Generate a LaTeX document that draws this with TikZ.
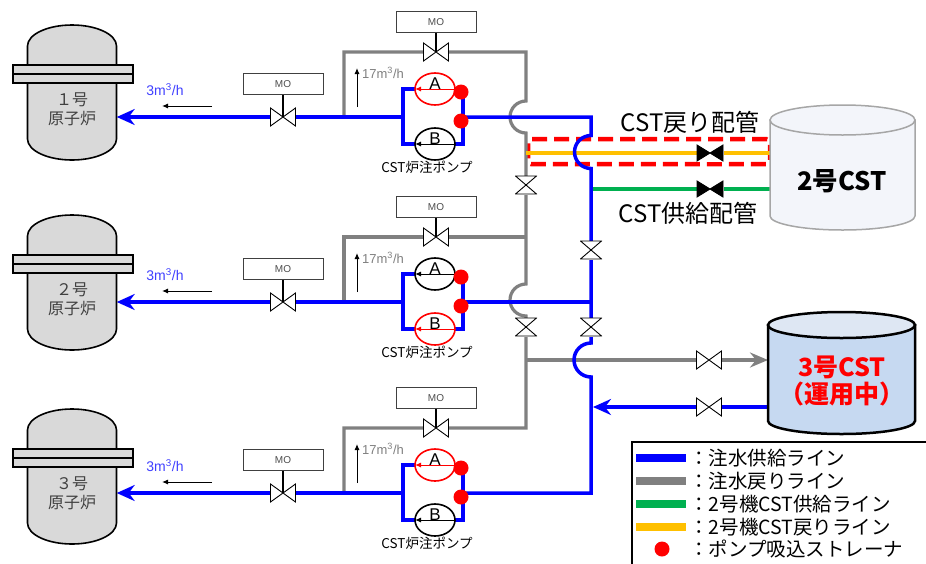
\documentclass[tikz,border=0pt]{standalone}
\usepackage{fontspec}
\setmainfont{Noto Sans CJK JP}
\newfontfamily\arialfont{Liberation Sans}
\usetikzlibrary{positioning,arrows.meta,shapes.geometric,backgrounds}

\definecolor{supply}{RGB}{0,0,255}
\definecolor{retgray}{RGB}{128,128,128}
\definecolor{cstgreen}{RGB}{0,176,80}
\definecolor{cstorange}{RGB}{255,192,0}
\definecolor{vesselgray}{RGB}{217,217,217}
\definecolor{tankblue}{RGB}{198,217,241}
\definecolor{tanktop}{RGB}{222,231,243}
\definecolor{tankpale}{RGB}{243,245,250}
\definecolor{feedblue}{RGB}{64,64,255}

\begin{document}
\begin{tikzpicture}[x=1pt,y=-1pt,
  supplypipe/.style={supply,line width=3.5pt},
  returnpipe/.style={retgray,line width=3.2pt},
  bigtip/.style={-{Stealth[length=18pt,width=16pt,inset=6pt]}},
  flowarrow/.style={line width=1pt,-{Latex[length=6pt,width=5pt]}},
  valve/.style={minimum width=26pt,minimum height=19pt,inner sep=0pt,fill=white,
    path picture={\draw[fill=#1,line width=.9pt]
      ([shift={(.5pt,.5pt)}]path picture bounding box.south west) --
      ([shift={(-.5pt,-.5pt)}]path picture bounding box.north east) --
      ([shift={(-.5pt,.5pt)}]path picture bounding box.south east) --
      ([shift={(.5pt,-.5pt)}]path picture bounding box.north west) -- cycle;}},
  valve/.default=white,
  vvalve/.style={minimum width=22pt,minimum height=19pt,inner sep=0pt,fill=white,
    path picture={\draw[fill=white,line width=.9pt]
      ([shift={(.5pt,.5pt)}]path picture bounding box.south west) --
      ([shift={(-.5pt,-.5pt)}]path picture bounding box.north east) --
      ([shift={(.5pt,-.5pt)}]path picture bounding box.north west) --
      ([shift={(-.5pt,.5pt)}]path picture bounding box.south east) -- cycle;}},
  mobox/.style={draw=black!75,line width=1pt,minimum width=80pt,minimum height=21pt,
    inner sep=0pt,text=black!70,font=\arialfont\fontsize{10}{10}\selectfont},
  reactor/.style={minimum width=92pt,minimum height=138pt,inner sep=0pt,
    path picture={\filldraw[fill=vesselgray,line width=1.6pt]
      ([shift={(-44.5pt,-46.5pt)}]path picture bounding box.center)
      arc[start angle=180,end angle=360,x radius=44.5pt,y radius=21pt] -- ++(0pt,93pt)
      arc[start angle=0,end angle=180,x radius=44.5pt,y radius=21pt] -- cycle;}},
  reactortext/.style={font=\fontsize{16}{19}\selectfont,text=black!75,align=center},
  flange/.style={draw,line width=1.6pt,fill=vesselgray,minimum width=120pt,minimum height=18pt,
    inner sep=0pt,path picture={\draw[line width=1.2pt] (path picture bounding box.west) -- (path picture bounding box.east);}},
  pump/.style={ellipse,draw=#1,line width=1.6pt,fill=white,minimum width=40pt,minimum height=32pt,
    inner sep=0pt,font=\arialfont\fontsize{17}{17}\selectfont,
    path picture={\draw[#1,line width=1pt,-{Latex[length=6pt,width=5pt]}] (path picture bounding box.east) -- (path picture bounding box.west);}},
  strainer/.style={circle,fill=red,minimum size=15pt,inner sep=0pt},
  caption/.style={font=\fontsize{13.5}{13.5}\selectfont},
  feed/.style={text=feedblue,font=\arialfont\fontsize{14}{14}\selectfont},
  rate/.style={text=retgray,font=\arialfont\fontsize{13}{13}\selectfont,inner sep=0pt},
  hilite/.style={draw=red,line width=4.5pt,dash pattern=on 15pt off 7pt,rounded corners=3pt,
    minimum width=242pt,minimum height=25pt,inner sep=0pt},
  bigtext/.style={font=\fontsize{24}{24}\selectfont,inner sep=0pt},
  legbar/.style={minimum width=50pt,minimum height=8pt,inner sep=0pt},
  legtext/.style={font=\fontsize{19.5}{19.5}\selectfont,anchor=west,inner sep=0pt}]
\useasboundingbox (0,0) rectangle (926,563);

% three units: reactor, MO valves, CST pumps
\foreach \i/\unit/\y/\ry/\ca/\cb in {1/１/117/92.5/red/black,2/２/302/282.5/black/red,3/３/493/476.5/red/black}{
  \node[reactor] (r\i) at (72,\ry) {};
  \node[reactortext] (rn\i) at (72,\ry+17) {\unit 号\\原子炉};
  \node[flange] (fl\i) at (73,\ry-18.5) {};
  \node[valve] (mv\i) at (283,\y) {};
  \node[mobox,above=12pt of mv\i] (mo\i) {MO};
  \node[feed] (q\i) at (165,\y-27) {3m\textsuperscript{3}/h};
  \node[pump=\ca] (pa\i) at (435,\y-28) {\smash{A}};
  \node[pump=\cb] (pb\i) at (435,\y+27) {\smash{B}};
  \node[strainer] (sa\i) at (461,\y-25) {};
  \node[strainer] (sb\i) at (461,\y+4) {};
  \node[caption,below=-3pt of pb\i,xshift=-8pt] (cap\i) {CST炉注ポンプ};
  \node[valve] (rv\i) at (436,\y-65) {};
  \node[mobox,above=9pt of rv\i] (mr\i) {MO};
  \node[rate,anchor=west] (fr\i) at (362,\y-44) {17m\textsuperscript{3}/h};
  \coordinate (fa\i) at (357,\y-10);
  \coordinate (fb\i) at (212,\y-11);
  \coordinate (in\i) at (403,\y);
  \coordinate (out\i) at (463,\y);
  \coordinate (hdr\i) at (591,\y);
  \coordinate (rl\i) at (344,\y);
  \coordinate (rt\i) at (344,\y-65);
  \coordinate (rr\i) at (526,\y-65);
  \draw[line width=1.5pt] (mo\i.south) -- (mv\i.center);
  \draw[line width=1.5pt] (mr\i.south) -- (rv\i.center);
  \draw[flowarrow] (fa\i) -- ++(0,-39);
  \draw[flowarrow] (fb\i) -- ++(-50,0);
}

% header and return line valves
\node[vvalve] (hv1) at (591,250) {};
\node[vvalve] (hv2) at (591,327) {};
\node[vvalve] (gv1) at (526,185) {};
\node[vvalve] (gv2) at (526,327) {};
\node[valve=black,minimum width=27pt,minimum height=17pt] (ov) at (710,153) {};
\node[valve=black,minimum width=27pt,minimum height=17pt] (gnv) at (710,189) {};
\node[valve] (tv1) at (709,360) {};
\node[valve] (tv2) at (709,407) {};
\coordinate (oj) at (526,153);
\coordinate (gnj) at (591,189);
\coordinate (gj) at (526,360);
\coordinate (bj) at (593,407);
\coordinate (t2ret) at (770,153);
\coordinate (t2sup) at (770,189);
\coordinate (t3ret) at (768,360);
\coordinate (t3sup) at (768,407);

% tanks
\filldraw[fill=tankpale,draw=black!35,line width=1.5pt] (770,120) -- (770,216)
  arc[start angle=180,end angle=0,x radius=72.5,y radius=14] -- (915,120) -- cycle;
\filldraw[fill=tankpale,draw=black!35,line width=1.5pt] (842.5,120) ellipse[x radius=72.5,y radius=15];
\node[bigtext,font=\bfseries\fontsize{25.5}{25.5}\selectfont] (cst2) at (842,181) {2号CST};
\filldraw[fill=tankblue,line width=2.5pt] (768,325) -- (768,421)
  arc[start angle=180,end angle=0,x radius=73.5,y radius=13] -- (915,325) -- cycle;
\filldraw[fill=tanktop,line width=2.5pt] (841.5,325) ellipse[x radius=73.5,y radius=13];
\node[text=red,align=center,font=\bfseries\fontsize{25}{27}\selectfont] (cst3) at (842,381) {3号CST\\（運用中）};

\node[bigtext] (retlabel) at (690,122) {CST戻り配管};
\node[bigtext] (suplabel) at (688,213) {CST供給配管};

% legend
\node[draw,line width=2pt,minimum width=320pt,minimum height=150pt,anchor=north west] (legend) at (631,441) {};
\foreach \c/\t [count=\j] in {supply/注水供給ライン,retgray/注水戻りライン,cstgreen/2号機CST供給ライン,cstorange/2号機CST戻りライン}{
  \node[legbar,fill=\c] (key\j) at (661,435+23*\j) {};
  \node[legtext] (lt\j) at (689,435+23*\j) {：\t};
}
\node[strainer] (key5) at (662,549) {};
\node[legtext] (lt5) at (689,549) {：ポンプ吸込ストレーナ};

% pipes
\begin{pgfonlayer}{background}
\node[hilite] (retbox) at (649,151.5) {};
\draw[returnpipe] (rl1) -- (rt1) -- (rr1) -- (526,101) arc[start angle=270,end angle=90,radius=16]
  -- (526,284) arc[start angle=270,end angle=90,radius=16] -- (rr3) -- (rt3) -- (rl3);
\draw[returnpipe] (rl2) -- (rt2) -- (rr2);
\draw[returnpipe,-{Stealth[length=18pt,width=15pt,inset=6pt]}] (gj) -- (t3ret);
\draw[cstorange,line width=3.5pt] (oj) -- (t2ret);
\draw[cstgreen,line width=3.5pt] (gnj) -- (t2sup);
\foreach \i in {1,2,3}{
  \draw[supplypipe,bigtip] (in\i) -- ([xshift=-1.5pt]r\i.east |- in\i);
  \draw[supplypipe] (pa\i -| in\i) -- (pb\i -| in\i) -- (pb\i -| out\i) -- (pa\i -| out\i) -- cycle;
}
\draw[supplypipe] (out1) -- (hdr1) -- (591,135.5) arc[start angle=270,end angle=90,radius=16.5]
  -- (591,343) arc[start angle=270,end angle=90,radius=17] -- (hdr3) -- (out3);
\draw[supplypipe] (out2) -- (hdr2);
\draw[supplypipe,bigtip] (t3sup) -- (bj);
\end{pgfonlayer}
\end{tikzpicture}
\end{document}
